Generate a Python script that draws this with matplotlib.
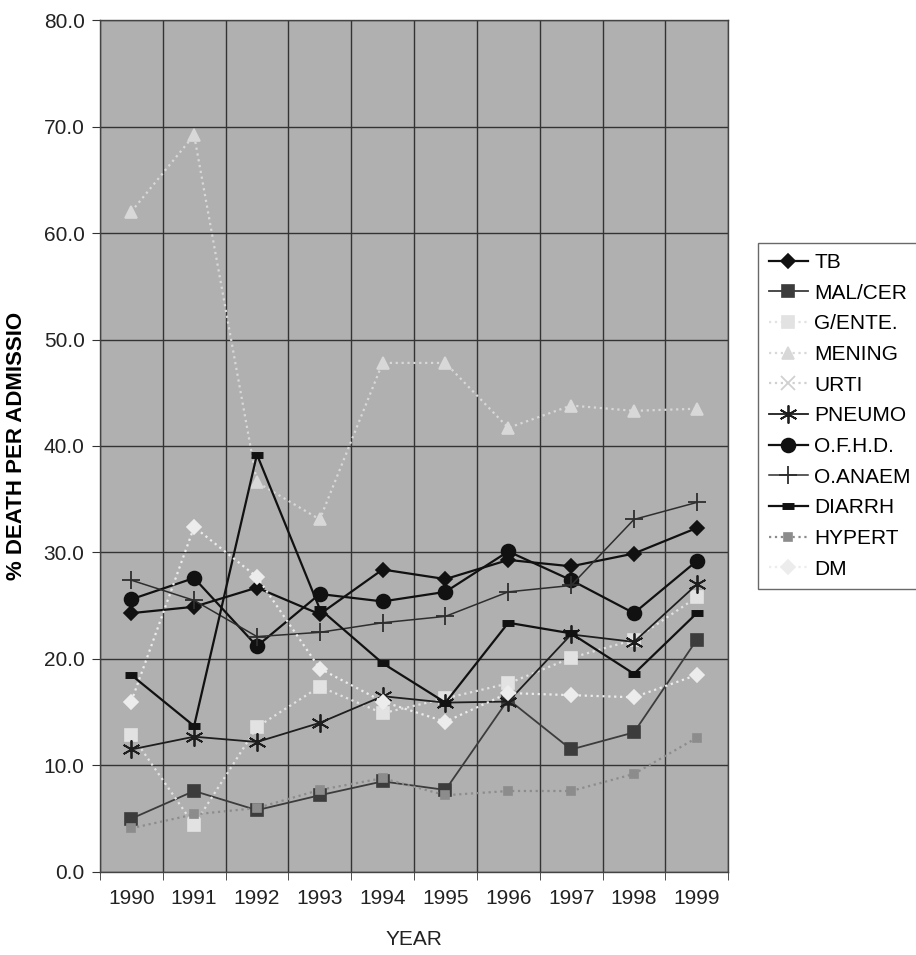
import numpy as np
import matplotlib
matplotlib.use("Agg")
import matplotlib.pyplot as plt

plt.rcParams["font.family"] = ["Liberation Sans", "DejaVu Sans"]

# Years on the category axis
years = ["1990", "1991", "1992", "1993", "1994", "1995", "1996", "1997", "1998", "1999"]

# % death per admission
tb = [24.3, 24.9, 26.7, 24.2, 28.4, 27.5, 29.3, 28.7, 29.9, 32.3]
mal_cer = [5.0, 7.6, 5.8, 7.2, 8.5, 7.7, 16.2, 11.5, 13.1, 21.8]
g_ente = [12.9, 4.4, 13.6, 17.4, 14.9, 16.3, 17.7, 20.1, 21.8, 25.8]
mening = [62.0, 69.2, 36.6, 33.1, 47.8, 47.8, 41.7, 43.8, 43.3, 43.5]
urti = [np.nan] * 10
pneumo = [11.5, 12.7, 12.2, 14.0, 16.5, 15.9, 16.0, 22.3, 21.6, 27.0]
ofhd = [25.6, 27.6, 21.2, 26.1, 25.4, 26.3, 30.1, 27.4, 24.3, 29.2]
oanaem = [27.4, 25.5, 22.1, 22.5, 23.4, 24.0, 26.3, 26.9, 33.1, 34.7]
diarrh = [18.5, 13.7, 39.2, 24.7, 19.6, 15.9, 23.4, 22.4, 18.6, 24.3]
hypert = [4.1, 5.4, 6.0, 7.7, 8.8, 7.2, 7.6, 7.6, 9.2, 12.6]
dm = [16.0, 32.4, 27.7, 19.1, 16.0, 14.1, 16.8, 16.6, 16.4, 18.5]

fig = plt.figure(figsize=(9.16, 9.55), dpi=100)
ax = fig.add_axes([0.109, 0.087, 0.686, 0.892])
ax.set_facecolor("#b0b0b0")

x = np.arange(len(years))

# label, values, color, linestyle, linewidth, marker, markersize
series = [
    ("TB", tb, "#111111", "-", 1.6, "D", 7),
    ("MAL/CER", mal_cer, "#3c3c3c", "-", 1.3, "s", 9),
    ("G/ENTE.", g_ente, "#e2e2e2", ":", 1.6, "s", 9),
    ("MENING", mening, "#d8d8d8", ":", 1.6, "^", 9),
    ("URTI", urti, "#d0d0d0", ":", 1.6, "x", 10),
    ("PNEUMO", pneumo, "#1e1e1e", "-", 1.3, (6, 2, 0), 13),
    ("O.F.H.D.", ofhd, "#111111", "-", 1.6, "o", 10),
    ("O.ANAEM", oanaem, "#2e2e2e", "-", 1.1, "+", 13),
    ("DIARRH", diarrh, "#111111", "-", 1.6, "_", 9),
    ("HYPERT", hypert, "#8c8c8c", ":", 1.6, "s", 6),
    ("DM", dm, "#ececec", ":", 1.6, "D", 7),
]

for label, vals, col, ls, lw, mk, ms in series:
    mew = 1.2
    if mk == "_":
        mew = 5
    elif mk in ("+", "x") or isinstance(mk, tuple):
        mew = 1.3
    ax.plot(x, vals, color=col, linestyle=ls, linewidth=lw, marker=mk,
            markersize=ms, markeredgecolor=col, markerfacecolor=col,
            markeredgewidth=mew, label=label)

ax.set_xlim(-0.5, len(years) - 0.5)
ax.set_ylim(0, 80)
ax.set_yticks(np.arange(0, 81, 10))
ax.set_yticklabels(["%.1f" % v for v in np.arange(0, 81, 10)], fontsize=15, color="#222222")
ax.set_xticks(x)
ax.set_xticklabels(years, fontsize=15, color="#222222")
ax.set_xticks(np.arange(-0.5, len(years)), minor=True)
ax.tick_params(axis="x", which="major", length=0, pad=12)
ax.tick_params(axis="x", which="minor", length=6, color="#333333")
ax.tick_params(axis="y", length=6, color="#333333", pad=5)

ax.grid(True, axis="y", which="major", color="#333333", linewidth=1.0)
ax.grid(True, axis="x", which="minor", color="#333333", linewidth=1.0)
ax.set_axisbelow(True)
for s in ax.spines.values():
    s.set_color("#444444")
    s.set_linewidth(1.0)

ax.set_ylabel("% DEATH PER ADMISSIO", fontsize=16, fontweight="bold", labelpad=12)
ax.set_xlabel("YEAR", fontsize=15, labelpad=16, color="#222222")

leg = ax.legend(loc="upper left", bbox_to_anchor=(1.031, 0.751), fontsize=15,
                frameon=True, fancybox=False, edgecolor="#444444",
                handlelength=1.9, labelspacing=0.56, borderpad=0.5,
                handletextpad=0.3)
leg.get_frame().set_linewidth(1.0)

fig.savefig("out.png", dpi=100, facecolor="white")
